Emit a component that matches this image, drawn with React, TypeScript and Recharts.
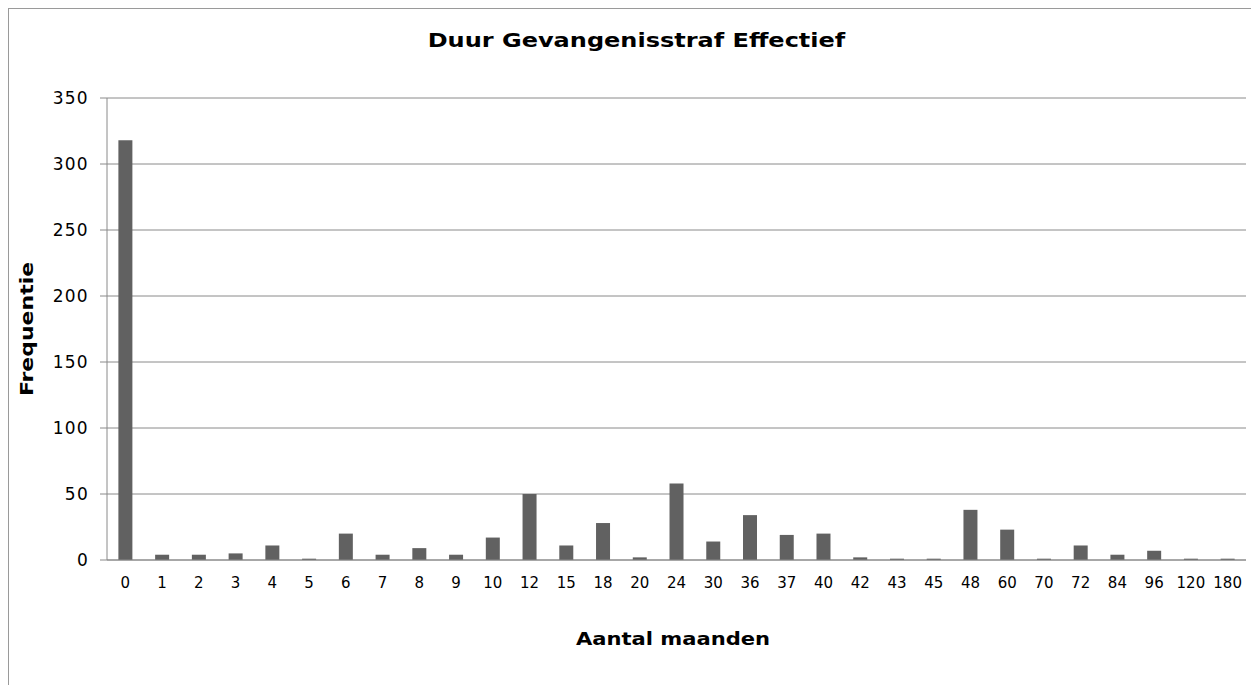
import React from "react";
import { BarChart, Bar, XAxis, YAxis, CartesianGrid } from "recharts";

const categories = ["0","1","2","3","4","5","6","7","8","9","10","12","15","18","20","24","30","36","37","40","42","43","45","48","60","70","72","84","96","120","180"];
const frequencies = [318,4,4,5,11,1,20,4,9,4,17,50,11,28,2,58,14,34,19,20,2,1,1,38,23,1,11,4,7,1,1];
const yTicks = [0,50,100,150,200,250,300,350];

const title = "Duur Gevangenisstraf Effectief";
const xTitle = "Aantal maanden";
const yTitle = "Frequentie";

const data = categories.map((c, i) => ({ cat: c, value: frequencies[i] }));

const FONT = "Verdana, 'DejaVu Sans', sans-serif";
const GRID = "#8a8a8a";

export default function App() {
  return (
    <div style={{ position: "relative", width: 1251, height: 677, fontFamily: FONT }}>
      <div style={{ position: "absolute", left: 0, top: 0, width: 1251, height: 677, borderLeft: "1.5px solid #9a9a9a", borderTop: "1.5px solid #9a9a9a", boxSizing: "border-box" }} />
      <BarChart
        width={1251}
        height={677}
        data={data}
        margin={{ top: 90, right: 13, bottom: 95, left: 0 }}
        barCategoryGap="31%"
      >
        <CartesianGrid vertical={false} stroke={GRID} strokeDasharray="" />
        <XAxis
          dataKey="cat"
          height={30}
          axisLine={{ stroke: GRID }}
          tickLine={false}
          tickSize={8}
          tickMargin={9}
          interval={0}
          tick={{ fontSize: 15, fill: "#000", fontFamily: FONT }}
        />
        <YAxis
          width={99}
          domain={[0, 350]}
          ticks={yTicks}
          axisLine={{ stroke: GRID }}
          tickLine={{ stroke: GRID }}
          tickSize={7}
          tickMargin={11}
          tick={{ fontSize: 17, fill: "#000", fontFamily: FONT, letterSpacing: 1.3 }}
        />
        <Bar dataKey="value" fill="#616161" isAnimationActive={false} />
      </BarChart>
      <div style={{ position: "absolute", left: 0, width: 1257, top: 20, textAlign: "center", fontWeight: "bold", fontSize: 20, lineHeight: "24px", transform: "scaleX(1.2)" }}>
        {title}
      </div>
      <div style={{ position: "absolute", left: 0, width: 1330, top: 620, textAlign: "center", fontWeight: "bold", fontSize: 18, lineHeight: "22px", transform: "scaleX(1.17)" }}>
        {xTitle}
      </div>
      <div style={{ position: "absolute", left: 19 - 150, top: 321 - 11, width: 300, height: 22, textAlign: "center", fontWeight: "bold", fontSize: 18, lineHeight: "22px", transform: "rotate(-90deg) scaleX(1.22)" }}>
        {yTitle}
      </div>
    </div>
  );
}
